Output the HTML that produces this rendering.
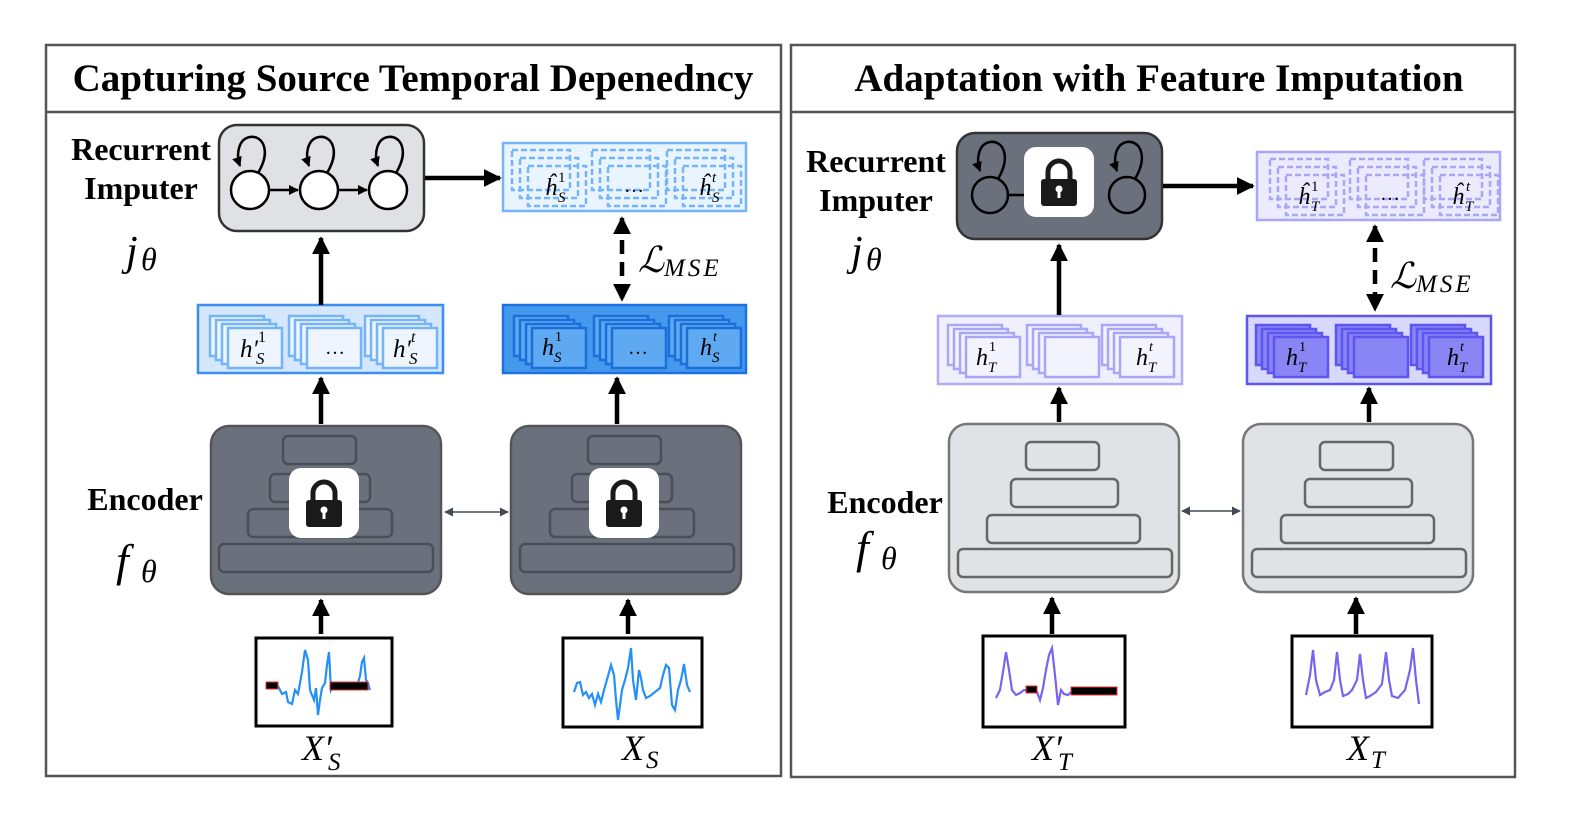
<!DOCTYPE html>
<html><head><style>
html,body{margin:0;padding:0;background:#fff}
svg{display:block}
text{font-family:"Liberation Serif",serif}
.i{font-style:italic}
</style></head><body>
<svg width="1577" height="829" viewBox="0 0 1577 829" xmlns="http://www.w3.org/2000/svg">
<defs>
<marker id="ah" viewBox="0 0 10 10" refX="9" refY="5" markerWidth="4" markerHeight="4" orient="auto-start-reverse"><path d="M0,0 L10,5 L0,10 z" fill="#000"/></marker>
<marker id="as" viewBox="0 0 10 10" refX="9" refY="5" markerWidth="6" markerHeight="6" orient="auto-start-reverse"><path d="M0,0 L10,5 L0,10 z" fill="#444a55"/></marker>
<g id="stk">
<rect x="0" y="0" width="54" height="40"/><rect x="6" y="4" width="54" height="40"/><rect x="12" y="8" width="54" height="40"/><rect x="18" y="12" width="54" height="40"/>
</g>
<g id="stkd" stroke-dasharray="6,3">
<rect x="0" y="0" width="58" height="40"/><rect x="8" y="8" width="58" height="40"/><rect x="16" y="16" width="58" height="40"/>
</g>
<g id="lock">
<rect x="0" y="0" width="70" height="70" rx="12" fill="#fff"/>
<path d="M24,34 V25 a11,11 0 0 1 22,0 V34" fill="none" stroke="#1a1a1a" stroke-width="5"/>
<rect x="17" y="32" width="36" height="27" rx="3" fill="#1a1a1a"/>
<circle cx="35" cy="42" r="3.5" fill="#fff"/><rect x="33.5" y="43" width="3" height="8" fill="#fff"/>
</g>
</defs>

<!-- Left panel -->
<rect x="46" y="45" width="735" height="731" fill="none" stroke="#555" stroke-width="2.5"/>
<line x1="46" y1="112" x2="781" y2="112" stroke="#555" stroke-width="2.5"/>
<text x="413" y="91" font-size="39" font-weight="bold" text-anchor="middle">Capturing Source Temporal Depenedncy</text>

<text x="141" y="160" font-size="32" font-weight="bold" text-anchor="middle">Recurrent</text>
<text x="141" y="199" font-size="32" font-weight="bold" text-anchor="middle">Imputer</text>
<text x="126" y="265" font-size="42" class="i">j</text><text x="141" y="270" font-size="32" class="i">θ</text>
<text x="145" y="510" font-size="32" font-weight="bold" text-anchor="middle">Encoder</text>
<text x="116" y="576" font-size="46" class="i">f</text><text x="141" y="582" font-size="32" class="i">θ</text>

<rect x="219" y="125" width="205" height="106" rx="18" fill="#dfe1e5" stroke="#333" stroke-width="2.5"/>
<g fill="#fff" stroke="#000" stroke-width="2.5">
<circle cx="250" cy="190" r="19"/><circle cx="319" cy="190" r="19"/><circle cx="388" cy="190" r="19"/>
</g>
<g fill="none" stroke="#000" stroke-width="2.5">
<path d="M258,173 C272,150 262,135 250,137 C238,139 236,155 240,166" marker-end="url(#ah)"/>
<path d="M327,173 C341,150 331,135 319,137 C307,139 305,155 309,166" marker-end="url(#ah)"/>
<path d="M396,173 C410,150 400,135 388,137 C376,139 374,155 378,166" marker-end="url(#ah)"/>
<line x1="269" y1="190" x2="298" y2="190" marker-end="url(#ah)"/>
<line x1="338" y1="190" x2="367" y2="190" marker-end="url(#ah)"/>
</g>
<line x1="425" y1="178" x2="500" y2="178" stroke="#000" stroke-width="4.5" marker-end="url(#ah)"/>

<rect x="503" y="143" width="243" height="68" fill="#eaf4fe" stroke="#74b4f8" stroke-width="2.5"/>
<g fill="none" stroke="#74b4f8" stroke-width="2.5">
<use href="#stkd" x="512" y="150"/>
<use href="#stkd" x="592" y="150"/>
<use href="#stkd" x="667" y="150"/>
</g>
<text x="545" y="195" font-size="24" class="i">ĥ</text><text x="558" y="202" font-size="15" class="i">S</text><text x="558" y="182" font-size="15">1</text>
<text x="634" y="192" font-size="20" text-anchor="middle">…</text>
<text x="699" y="195" font-size="24" class="i">ĥ</text><text x="712" y="202" font-size="15" class="i">S</text><text x="712" y="182" font-size="15" class="i">t</text>

<line x1="622" y1="218" x2="622" y2="300" stroke="#000" stroke-width="4.5" stroke-dasharray="14,8" marker-start="url(#ah)" marker-end="url(#ah)"/>
<text x="638" y="272" font-size="36" class="i">ℒ</text><text x="664" y="276" font-size="25" class="i" letter-spacing="3">MSE</text>

<rect x="198" y="305" width="245" height="68" fill="#d4e7fc" stroke="#3b8ff0" stroke-width="2.5"/>
<g fill="#eef5fe" stroke="#74b4f8" stroke-width="2.5">
<use href="#stk" x="210" y="316"/>
<use href="#stk" x="289" y="316"/>
<use href="#stk" x="365" y="316"/>
</g>
<text x="240" y="357" font-size="25" class="i">h′</text><text x="256" y="364" font-size="17" class="i">S</text><text x="258" y="342" font-size="16">1</text>
<text x="335" y="354" font-size="20" text-anchor="middle">…</text>
<text x="393" y="357" font-size="25" class="i">h′</text><text x="409" y="364" font-size="17" class="i">S</text><text x="411" y="342" font-size="16" class="i">t</text>

<rect x="503" y="305" width="243" height="68" fill="#4499ee" stroke="#1a73e0" stroke-width="2.5"/>
<g fill="#5ea9f2" stroke="#1a6fd8" stroke-width="2.5">
<use href="#stk" x="514" y="316"/>
<use href="#stk" x="594" y="316"/>
<use href="#stk" x="669" y="316"/>
</g>
<text x="542" y="355" font-size="24" class="i">h</text><text x="554" y="362" font-size="15" class="i">S</text><text x="555" y="341" font-size="14">1</text>
<text x="638" y="354" font-size="20" text-anchor="middle">…</text>
<text x="700" y="355" font-size="24" class="i">h</text><text x="712" y="362" font-size="15" class="i">S</text><text x="713" y="341" font-size="14" class="i">t</text>

<line x1="321" y1="305" x2="321" y2="238" stroke="#000" stroke-width="4.5" marker-end="url(#ah)"/>
<line x1="321" y1="424" x2="321" y2="378" stroke="#000" stroke-width="4.5" marker-end="url(#ah)"/>
<line x1="617" y1="424" x2="617" y2="378" stroke="#000" stroke-width="4.5" marker-end="url(#ah)"/>

<g stroke="#4a4e56" stroke-width="2.5">
<rect x="211" y="426" width="230" height="168" rx="18" fill="#6b717c" stroke="#555"/>
<g fill="none"><rect x="283" y="436" width="73" height="28" rx="5"/><rect x="270" y="474" width="100" height="28" rx="5"/><rect x="248" y="509" width="144" height="28" rx="5"/><rect x="219" y="544" width="214" height="28" rx="5"/></g>
<rect x="511" y="426" width="230" height="168" rx="18" fill="#6b717c" stroke="#555"/>
<g fill="none"><rect x="588" y="436" width="73" height="28" rx="5"/><rect x="572" y="474" width="100" height="28" rx="5"/><rect x="550" y="509" width="144" height="28" rx="5"/><rect x="520" y="544" width="214" height="28" rx="5"/></g>
</g>
<use href="#lock" x="289" y="468"/>
<use href="#lock" x="589" y="468"/>
<line x1="445" y1="512" x2="508" y2="512" stroke="#444a55" stroke-width="1.5" marker-start="url(#as)" marker-end="url(#as)"/>

<line x1="321" y1="634" x2="321" y2="600" stroke="#000" stroke-width="4.5" marker-end="url(#ah)"/>
<line x1="628" y1="634" x2="628" y2="600" stroke="#000" stroke-width="4.5" marker-end="url(#ah)"/>
<rect x="256" y="638" width="136" height="88" fill="#fff" stroke="#000" stroke-width="3"/>
<rect x="563" y="638" width="139" height="89" fill="#fff" stroke="#000" stroke-width="3"/>
<polyline fill="none" stroke="#2590f5" stroke-width="2.2" points="278,686 282,694 286,692 288,702 292,704 295,690 298,694 300,683 302,672 305,650 308,660 310,690 314,700 316,688 318,715 320,700 322,688 325,683 327,665 329,652 331,690 333,686 340,688 357,686 360,676 362,662 364,658 366,680 368,683 370,690"/>
<rect x="266" y="682" width="12" height="7" fill="#000" stroke="#e33" stroke-width="1"/>
<rect x="330" y="682" width="38" height="8" fill="#000" stroke="#e33" stroke-width="1"/>
<polyline fill="none" stroke="#2590f5" stroke-width="2.2" points="574,692 577,683 580,682 583,695 586,692 589,698 592,694 595,705 598,694 601,702 604,690 608,676 611,665 614,675 616,700 618,720 620,705 622,690 625,680 628,668 631,648 633,680 636,700 639,670 641,678 643,690 646,698 650,696 655,692 660,688 663,675 666,665 669,668 672,705 675,710 678,690 681,680 684,664 687,685 690,692"/>
<text x="302" y="760" font-size="36" class="i">X′</text><text x="328" y="770" font-size="25" class="i">S</text>
<text x="622" y="760" font-size="36" class="i">X</text><text x="646" y="768" font-size="25" class="i">S</text>

<!-- Right panel -->
<rect x="791" y="45" width="724" height="732" fill="none" stroke="#555" stroke-width="2.5"/>
<line x1="791" y1="112" x2="1515" y2="112" stroke="#555" stroke-width="2.5"/>
<text x="1159" y="91" font-size="39" font-weight="bold" text-anchor="middle">Adaptation with Feature Imputation</text>

<text x="876" y="172" font-size="32" font-weight="bold" text-anchor="middle">Recurrent</text>
<text x="876" y="211" font-size="32" font-weight="bold" text-anchor="middle">Imputer</text>
<text x="851" y="265" font-size="42" class="i">j</text><text x="866" y="270" font-size="32" class="i">θ</text>
<text x="885" y="513" font-size="32" font-weight="bold" text-anchor="middle">Encoder</text>
<text x="856" y="563" font-size="46" class="i">f</text><text x="881" y="569" font-size="32" class="i">θ</text>

<rect x="957" y="133" width="205" height="106" rx="18" fill="#6b717c" stroke="#333" stroke-width="2.5"/>
<g fill="none" stroke="#000" stroke-width="2.5">
<circle cx="990" cy="195" r="18"/><circle cx="1127" cy="195" r="18"/>
<path d="M998,179 C1012,155 1002,140 990,142 C978,144 976,160 980,171" marker-end="url(#ah)"/>
<path d="M1135,179 C1149,155 1139,140 1127,142 C1115,144 1113,160 1117,171" marker-end="url(#ah)"/>
<line x1="1008" y1="195" x2="1026" y2="195"/>
</g>
<use href="#lock" x="1024" y="147"/>
<line x1="1163" y1="186" x2="1253" y2="186" stroke="#000" stroke-width="4.5" marker-end="url(#ah)"/>

<rect x="1257" y="152" width="243" height="68" fill="#ebebfd" stroke="#a9a5f7" stroke-width="2.5"/>
<g fill="none" stroke="#a9a5f7" stroke-width="2.5">
<use href="#stkd" x="1270" y="159"/>
<use href="#stkd" x="1350" y="159"/>
<use href="#stkd" x="1424" y="159"/>
</g>
<text x="1298" y="204" font-size="24" class="i">ĥ</text><text x="1311" y="211" font-size="15" class="i">T</text><text x="1311" y="191" font-size="15">1</text>
<text x="1390" y="200" font-size="20" text-anchor="middle">…</text>
<text x="1452" y="204" font-size="24" class="i">ĥ</text><text x="1465" y="211" font-size="15" class="i">T</text><text x="1466" y="191" font-size="15" class="i">t</text>

<line x1="1375" y1="226" x2="1375" y2="310" stroke="#000" stroke-width="4.5" stroke-dasharray="14,8" marker-start="url(#ah)" marker-end="url(#ah)"/>
<text x="1390" y="288" font-size="36" class="i">ℒ</text><text x="1416" y="292" font-size="25" class="i" letter-spacing="3">MSE</text>

<rect x="938" y="316" width="244" height="68" fill="#f0f0fd" stroke="#b0acf7" stroke-width="2.5"/>
<g fill="#f3f3fe" stroke="#a9a5f7" stroke-width="2.5">
<use href="#stk" x="948" y="325"/>
<use href="#stk" x="1027" y="325"/>
<use href="#stk" x="1102" y="325"/>
</g>
<text x="976" y="365" font-size="24" class="i">h</text><text x="988" y="372" font-size="15" class="i">T</text><text x="989" y="351" font-size="14">1</text>
<text x="1136" y="365" font-size="24" class="i">h</text><text x="1148" y="372" font-size="15" class="i">T</text><text x="1149" y="351" font-size="14" class="i">t</text>

<rect x="1247" y="316" width="244" height="68" fill="#d8d8fb" stroke="#5c55f0" stroke-width="2.5"/>
<g fill="#8a85f5" stroke="#5c55f0" stroke-width="2.5">
<use href="#stk" x="1256" y="325"/>
<use href="#stk" x="1336" y="325"/>
<use href="#stk" x="1411" y="325"/>
</g>
<text x="1286" y="365" font-size="24" class="i">h</text><text x="1298" y="372" font-size="15" class="i">T</text><text x="1299" y="351" font-size="14">1</text>
<text x="1447" y="365" font-size="24" class="i">h</text><text x="1459" y="372" font-size="15" class="i">T</text><text x="1460" y="351" font-size="14" class="i">t</text>

<line x1="1059" y1="315" x2="1059" y2="245" stroke="#000" stroke-width="4.5" marker-end="url(#ah)"/>
<line x1="1059" y1="422" x2="1059" y2="388" stroke="#000" stroke-width="4.5" marker-end="url(#ah)"/>
<line x1="1369" y1="422" x2="1369" y2="388" stroke="#000" stroke-width="4.5" marker-end="url(#ah)"/>

<g stroke="#777" stroke-width="2.5">
<rect x="949" y="424" width="230" height="168" rx="18" fill="#e0e2e6"/>
<g fill="none" stroke="#666"><rect x="1026" y="442" width="73" height="28" rx="5"/><rect x="1011" y="479" width="107" height="28" rx="5"/><rect x="987" y="515" width="153" height="28" rx="5"/><rect x="958" y="549" width="214" height="28" rx="5"/></g>
<rect x="1243" y="424" width="230" height="168" rx="18" fill="#e0e2e6"/>
<g fill="none" stroke="#666"><rect x="1320" y="442" width="73" height="28" rx="5"/><rect x="1305" y="479" width="107" height="28" rx="5"/><rect x="1281" y="515" width="153" height="28" rx="5"/><rect x="1252" y="549" width="214" height="28" rx="5"/></g>
</g>
<line x1="1182" y1="511" x2="1240" y2="511" stroke="#444a55" stroke-width="1.5" marker-start="url(#as)" marker-end="url(#as)"/>

<line x1="1052" y1="634" x2="1052" y2="598" stroke="#000" stroke-width="4.5" marker-end="url(#ah)"/>
<line x1="1356" y1="634" x2="1356" y2="598" stroke="#000" stroke-width="4.5" marker-end="url(#ah)"/>
<rect x="983" y="636" width="142" height="91" fill="#fff" stroke="#000" stroke-width="3"/>
<rect x="1292" y="636" width="140" height="91" fill="#fff" stroke="#000" stroke-width="3"/>
<polyline fill="none" stroke="#7b62f0" stroke-width="2.2" points="996,698 1000,690 1003,672 1006,652 1009,670 1012,690 1016,695 1020,693 1024,690 1037,692 1040,700 1043,688 1046,670 1049,655 1052,648 1055,675 1058,705 1061,690 1064,694 1068,695 1071,692"/>
<rect x="1026" y="686" width="11" height="7" fill="#000" stroke="#e33" stroke-width="1"/>
<rect x="1071" y="687" width="46" height="8" fill="#000" stroke="#e33" stroke-width="1"/>
<polyline fill="none" stroke="#7b62f0" stroke-width="2.2" points="1306,695 1310,675 1313,650 1316,680 1320,695 1325,692 1330,690 1334,680 1337,652 1340,680 1343,696 1348,694 1352,690 1357,680 1360,654 1363,680 1366,698 1370,696 1376,692 1382,684 1386,652 1389,680 1392,696 1398,698 1405,690 1410,670 1413,648 1416,680 1419,704"/>
<text x="1032" y="760" font-size="36" class="i">X′</text><text x="1058" y="770" font-size="25" class="i">T</text>
<text x="1347" y="760" font-size="36" class="i">X</text><text x="1371" y="768" font-size="25" class="i">T</text>
</svg>
</body></html>
